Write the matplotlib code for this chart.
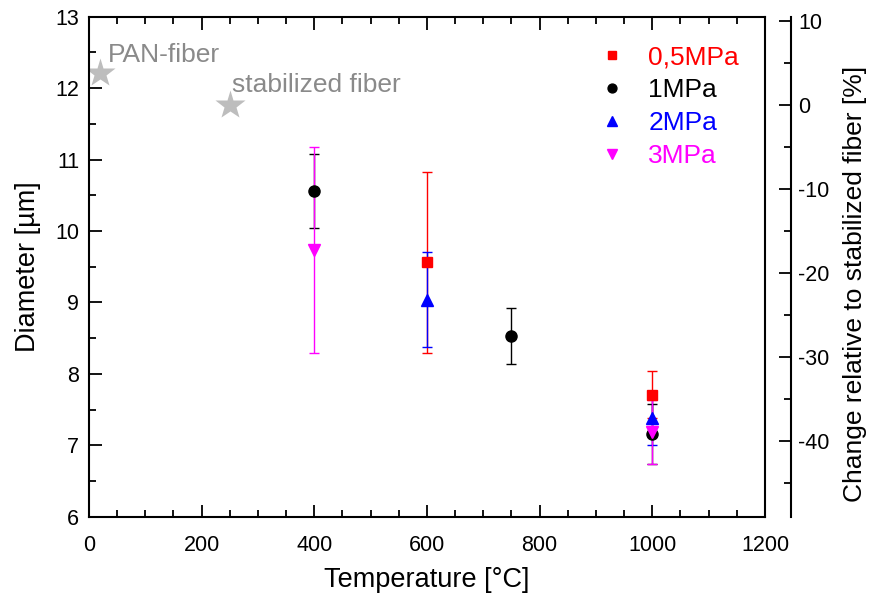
import numpy as np
import matplotlib
matplotlib.use('Agg')
import matplotlib.pyplot as plt

plt.rcParams['font.family'] = ['Liberation Sans', 'DejaVu Sans']
plt.rcParams['axes.unicode_minus'] = False

# data
temp_05 = [600, 1000]
d_05 = [9.56, 7.71]
err_05 = [1.27, 0.33]

temp_1 = [400, 750, 1000]
d_1 = [10.56, 8.53, 7.16]
err_1 = [0.52, 0.39, 0.42]

temp_2 = [600, 1000]
d_2 = [9.04, 7.38]
err_2 = [0.67, 0.37]

temp_3 = [400, 1000]
d_3 = [9.73, 7.19]
err_3 = [1.44, 0.45]

ref_temp = [20, 250]
ref_d = [12.21, 11.76]
ref_labels = ['PAN-fiber', 'stabilized fiber']
d_stab = 11.76

fig = plt.figure(figsize=(8.7, 5.94), dpi=100)
ax = fig.add_axes([0.1023, 0.1301, 0.777, 0.8418])

series = [
    (temp_05, d_05, err_05, 's', 'red', '0,5MPa', 7.5),
    (temp_1, d_1, err_1, 'o', 'black', '1MPa', 8),
    (temp_2, d_2, err_2, '^', 'blue', '2MPa', 8.5),
    (temp_3, d_3, err_3, 'v', 'magenta', '3MPa', 8.5),
]
handles = []
for t, d, e, m, c, lab, ms in series:
    cont = ax.errorbar(t, d, yerr=e, fmt=m, color=c, ms=ms, mec=c, ecolor=c,
                       elinewidth=1, capsize=3.6, capthick=1, label=lab)
    handles.append(cont[0])

ax.plot(ref_temp, ref_d, '*', color='#bdbdbd', ms=22, mec='none')
ax.text(ref_temp[0] + 14, 12.46, ref_labels[0], color='#8a8a8a', fontsize=19, va='center')
ax.text(ref_temp[1] + 3, 12.04, ref_labels[1], color='#8a8a8a', fontsize=19, va='center')

ax.set_xlim(0, 1200)
ax.set_ylim(6, 13)
ax.set_xticks(np.arange(0, 1201, 200))
ax.set_xticks(np.arange(0, 1201, 50), minor=True)
ax.set_yticks(np.arange(6, 13.1, 1))
ax.set_yticks(np.arange(6, 13.1, 0.5), minor=True)
ax.tick_params(which='both', direction='in', top=True, right=True, width=1.3,
               labelsize=15.5)
ax.tick_params(axis='x', pad=13)
ax.tick_params(axis='y', pad=7)
ax.tick_params(which='major', length=9)
ax.tick_params(which='minor', length=5)
for s in ax.spines.values():
    s.set_linewidth(1.5)
ax.set_xlabel('Temperature [°C]', fontsize=19.5, labelpad=8)
ax.set_ylabel('Diameter [µm]', fontsize=19.5, labelpad=10)

leg = ax.legend(handles=handles, labels=[s[5] for s in series], loc='upper right',
                frameon=False, fontsize=19, labelcolor='linecolor', handletextpad=0.8,
                labelspacing=0.34, handlelength=1.2, markerscale=0.8,
                bbox_to_anchor=(0.997, 0.99))

ax2 = ax.twinx()
ax2.set_ylim((6 / d_stab - 1) * 100, (13 / d_stab - 1) * 100)
ax2.spines['right'].set_position(('outward', 18.7))
for k in ['top', 'left', 'bottom']:
    ax2.spines[k].set_visible(False)
ax2.spines['right'].set_linewidth(1.5)
ax2.set_yticks(np.arange(-40, 11, 10))
ax2.set_yticks(np.arange(-45, 11, 5), minor=True)
ax2.tick_params(which='both', direction='in', width=1.3, labelsize=15.5, pad=5)
ax2.tick_params(which='major', length=9)
ax2.tick_params(which='minor', length=5)
ax2.set_ylabel('Change relative to stabilized fiber [%]', fontsize=19)
ax2.yaxis.set_label_coords(1.116, 0.466)

fig.savefig('out.png', dpi=100)
